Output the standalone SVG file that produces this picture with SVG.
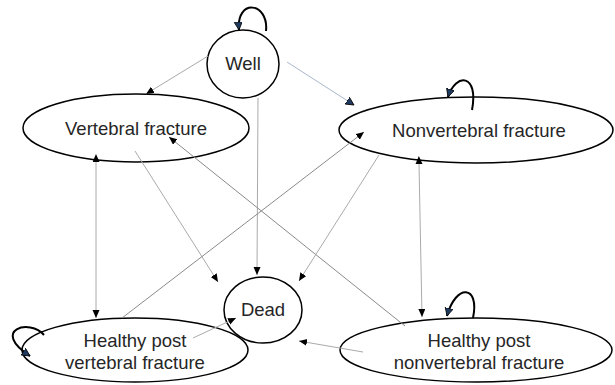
<svg xmlns="http://www.w3.org/2000/svg" width="615" height="385" viewBox="0 0 615 385">
<defs>
<style>
.node{fill:#fff;stroke:#000;stroke-width:1.5}
.lbl{font-family:"Liberation Sans",Arial,sans-serif;font-size:18.5px;fill:#262626;text-anchor:middle}
.ln{fill:none;stroke:#aaa;stroke-width:1}
.dk{stroke:#8a8a8a}
.loop{fill:none;stroke:#000;stroke-width:2}
</style>
<marker id="ah" markerUnits="userSpaceOnUse" markerWidth="8" markerHeight="8" refX="8" refY="3.5" orient="auto">
<path d="M0,0 L8,3.5 L0,7 z" fill="#000"/>
</marker>
<marker id="ahs" markerUnits="userSpaceOnUse" markerWidth="8" markerHeight="8" refX="0" refY="3.5" orient="auto-start-reverse">
<path d="M0,0 L8,3.5 L0,7 z" fill="#000"/>
</marker>
<marker id="ahb" markerUnits="userSpaceOnUse" markerWidth="10" markerHeight="10" refX="8" refY="4" orient="auto">
<path d="M0,0 L8,4 L0,8 z" fill="#1f3a5f" stroke="#000" stroke-width="0.8"/>
</marker>
</defs>
<rect width="615" height="385" fill="#fff"/>
<g id="n-well"><ellipse class="node" cx="243" cy="64" rx="36" ry="34"/><text class="lbl" x="243" y="70">Well</text></g>
<g id="n-vert"><ellipse class="node" cx="136" cy="128" rx="113" ry="34"/><text class="lbl" x="136" y="135">Vertebral fracture</text></g>
<g id="n-nonvert"><ellipse class="node" cx="476" cy="130" rx="137" ry="33"/><text class="lbl" x="479" y="137">Nonvertebral fracture</text></g>
<g id="n-hpv"><ellipse class="node" cx="135" cy="350" rx="113" ry="32"/><text class="lbl" x="135" y="347">Healthy post</text><text class="lbl" x="135" y="369">vertebral fracture</text></g>
<g id="n-hpnv"><ellipse class="node" cx="476" cy="350" rx="136" ry="32"/><text class="lbl" x="479" y="347">Healthy post</text><text class="lbl" x="479" y="369">nonvertebral fracture</text></g>
<g id="n-dead"><ellipse cx="263" cy="310" rx="39" ry="33" fill="none" stroke="#000" stroke-width="1.5"/><text class="lbl" x="263" y="316">Dead</text></g>
<g id="connectors">
<line class="ln" x1="208" y1="56" x2="146" y2="94" marker-end="url(#ah)"/>
<line class="ln" x1="287" y1="62" x2="354" y2="105" style="stroke:#a9b7cc" marker-end="url(#ahb)"/>
<line class="ln" x1="258" y1="98" x2="257" y2="275" marker-end="url(#ah)"/>
<line class="ln" x1="135" y1="151" x2="218" y2="282" marker-end="url(#ah)"/>
<line class="ln dk" x1="405" y1="326" x2="169" y2="137" marker-end="url(#ah)"/>
<line class="ln dk" x1="122" y1="318" x2="364" y2="132" marker-end="url(#ah)"/>
<line class="ln" x1="379" y1="155" x2="299" y2="281" marker-end="url(#ah)"/>
<line class="ln" x1="193" y1="338" x2="236" y2="318" marker-end="url(#ah)"/>
<line class="ln" x1="363" y1="352" x2="299" y2="341" marker-end="url(#ah)"/>
<line class="ln" x1="96" y1="162" x2="96" y2="318" marker-start="url(#ahs)" marker-end="url(#ah)"/>
<line class="ln" x1="419" y1="164" x2="422" y2="317" marker-start="url(#ahs)" marker-end="url(#ah)"/>
<path class="loop" d="M266 31 C269 2 236 -2 239 30" marker-end="url(#ahb)"/>
<path class="loop" d="M472 110 C479 74 456 72 448 97" marker-end="url(#ahb)"/>
<path class="loop" d="M473 318 C480 285 456 283 447 316" marker-end="url(#ahb)"/>
<path class="loop" d="M44 335 C30 318 -10 330 30 356" marker-end="url(#ahb)"/>
</g>
</svg>
